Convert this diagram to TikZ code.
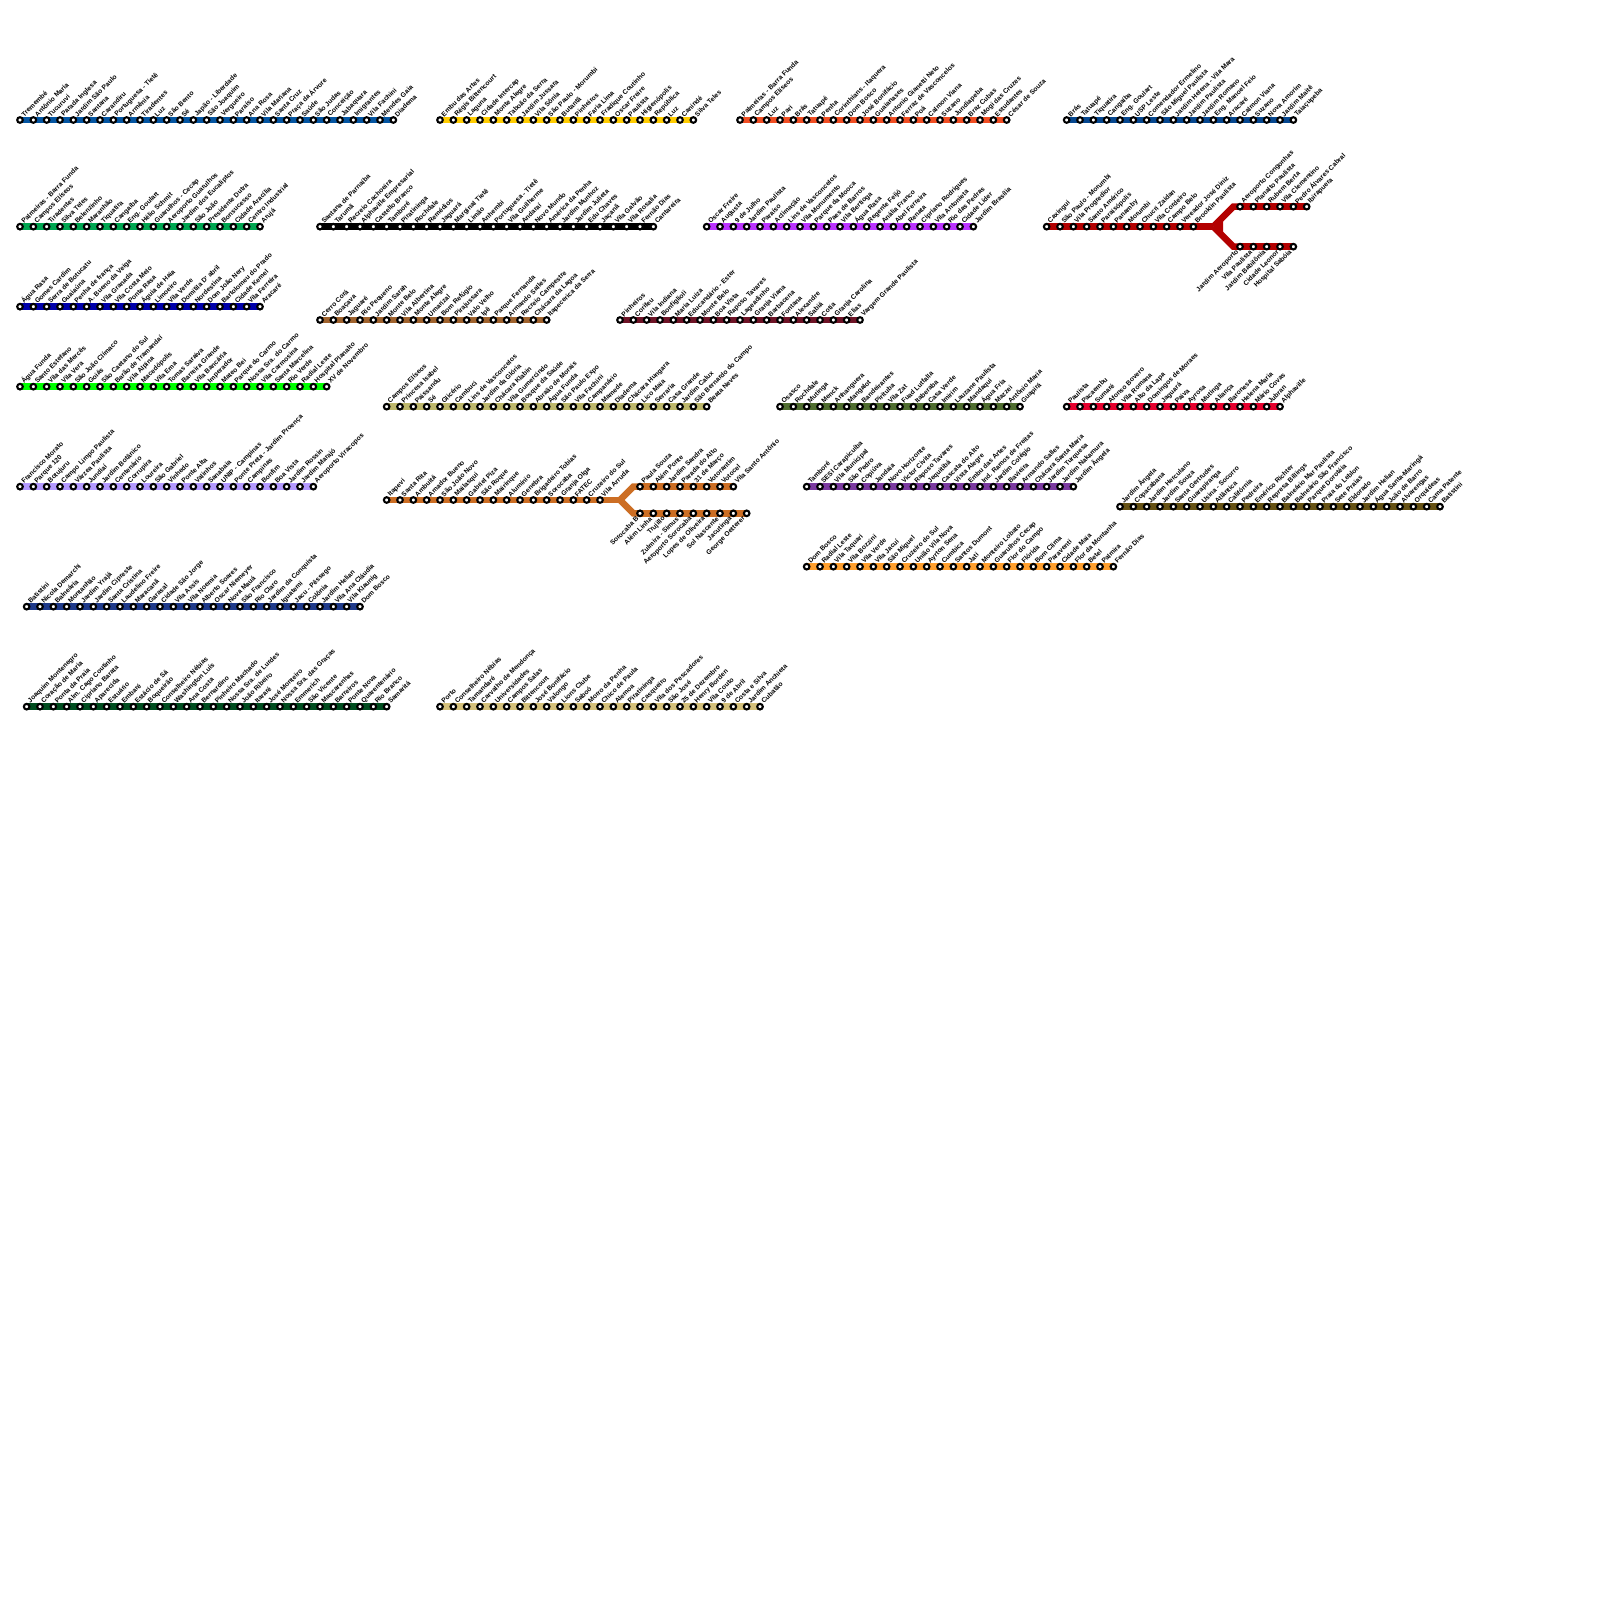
\documentclass[tikz,border=0pt]{standalone}
\usepackage{fontspec}
\setmainfont{Liberation Sans}
\usepackage{xcolor}
\definecolor{LineAzul}{HTML}{0455A1}
\definecolor{LineVerde}{HTML}{00A651}
\definecolor{LineAnil}{HTML}{0000AA}
\definecolor{LineLima}{HTML}{00FF00}
\definecolor{LineLilas}{HTML}{B399FF}
\definecolor{LineMarinho}{HTML}{1F3A8A}
\definecolor{LineMata}{HTML}{004D1F}
\definecolor{LineOuro}{HTML}{FFCC00}
\definecolor{LineCoral}{HTML}{F04E23}
\definecolor{LineNavy}{HTML}{06478F}
\definecolor{LinePreta}{HTML}{000000}
\definecolor{LineViola}{HTML}{BB33FF}
\definecolor{LineRubi}{HTML}{B30000}
\definecolor{LineTerra}{HTML}{A0632E}
\definecolor{LineVinho}{HTML}{6E1427}
\definecolor{LineCaqui}{HTML}{BDB76B}
\definecolor{LineCobre}{HTML}{CC6E24}
\definecolor{LineMusgo}{HTML}{4F6D2F}
\definecolor{LineRosa}{HTML}{E6002D}
\definecolor{LineRoxo}{HTML}{7B3AA0}
\definecolor{LineOliva}{HTML}{665214}
\definecolor{LineLaranja}{HTML}{FF9F2E}
\definecolor{LineAreia}{HTML}{D4C07A}
\usepackage{tikz}
\usetikzlibrary{backgrounds}
\newcommand{\stnstep}{13.3333}
% id, colour, first x, y, names
\newcommand{\metroline}[5]{%
    \foreach \sname [count=\i] in {#5} {
        \node[stn] (#1-\i) at ({#3+(\i-1)*\stnstep}, #4) {};
        \node[lblup] (#1-\i-lbl) at ([shift={(2.4,-4.4)}]#1-\i.center) {\sname};
        \xdef\lastidx{\i}
    }
    \begin{scope}[on background layer]
        \draw[band, #2] (#1-1.center) -- (#1-\lastidx.center);
    \end{scope}
}
% same thing, labels hanging below
\newcommand{\metrolinedown}[5]{%
    \foreach \sname [count=\i] in {#5} {
        \node[stn] (#1-\i) at ({#3+(\i-1)*\stnstep}, #4) {};
        \node[lbldown] (#1-\i-lbl) at ([shift={(-2.4,4.4)}]#1-\i.center) {\sname};
        \xdef\lastidx{\i}
    }
    \begin{scope}[on background layer]
        \draw[band, #2] (#1-1.center) -- (#1-\lastidx.center);
    \end{scope}
}

\begin{document}
\begin{tikzpicture}[
        x=1pt, y=-1pt,
        font=\fontsize{6.7}{8}\selectfont\bfseries,
        % Styles
        stn/.style={circle, draw=black, line width=2.1pt, fill=white, inner sep=0pt, minimum size=5.6pt},
        lblup/.style={anchor=west, rotate=45, inner sep=0pt, text=black},
        lbldown/.style={anchor=east, rotate=45, inner sep=0pt, text=black},
        band/.style={line width=6.6pt}
    ]
    \useasboundingbox (0,0) rectangle (1600,1600);

    % 1. TOP ROW
    \metroline{azul}{LineAzul}{20}{120}{Tremembé, Antônio Maria, Tucuruvi, Parada Inglesa, Jardim São Paulo, Santana, Carandiru, Portuguesa - Tietê, Armênia, Tiradentes, Luz, São Bento, Sé, Japão - Liberdade, São Joaquim, Vergueiro, Paraíso, Ana Rosa, Vila Mariana, Santa Cruz, Praça da Árvore, Saúde, São Judas, Conceição, Jabaquara, Imigrantes, Vila Fachini, Mendes Gaia, Diadema}
    \metroline{ouro}{LineOuro}{440}{120}{Embu das Artes, Régis Bittencourt, Laguna, Cidade Intercap, Monte Alegre, Taboão da Serra, Jardim Jussara, Vila Sônia, São Paulo - Morumbi, Butantã, Pinheiros, Faria Lima, Fradique Coutinho, Oscar Freire, Paulista, Higienópolis, República, Luz, Canindé, Silva Teles}
    \metroline{coral}{LineCoral}{740}{120}{Palmeiras - Barra Funda, Campos Elíseos, Luz, Pari, Brás, Tatuapé, Penha, Corinthians - Itaquera, Dom Bosco, José Bonifácio, Guaianases, Antonio Gianetti Neto, Ferraz de Vasconcelos, Poá, Calmon Viana, Suzano, Jundiapeba, Braz Cubas, Mogi das Cruzes, Estudantes, César de Souza}
    \metroline{navy}{LineNavy}{1066.67}{120}{Brás, Tatuapé, Tiquatira, Cangaíba, Eng. Goulart, USP Leste, Comendador Ermelino, São Miguel Paulista, Jardim Helena - Vila Mara, Jardim Paulista, Jardim Romano, Eng. Manoel Feio, Aracaré, Calmon Viana, Suzano, Nova Amorim, Jardim Maitê, Taiaçupeba}

    % 2. SECOND ROW
    \metroline{verde}{LineVerde}{20}{226.67}{Palmeiras - Barra Funda, Campos Elíseos, Tiradentes, Silva Teles, Belenzinho, Maranhão, Tiquatira, Cangaíba, Eng. Goulart, Hélio Schmit, Guarulhos - Cecap, Aeroporto Guarulhos, Jardim dos Eucaliptos, São João, Presidente Dutra, Bonsucesso, Cidade Aracília, Centro Industrial, Arujá}
    \metroline{preta}{LinePreta}{320}{226.67}{Santana de Parnaíba, Tarumã, Recreio Cachoeira, Alphaville Empresarial, Castello Branco, Tamboré, Piratininga, Rochdale, Remédios, Jaguará, Marginal Tietê, Limão, Anhembi, Portuguesa - Tietê, Vila Guilherme, Andaraí, Novo Mundo, América da Penha, Jardim Munhoz, Jardim Julieta, Edu Chaves, Jaçanã, Vila Galvão, Vila Rosalia, Fernão Dias, Cantareira}
    \metroline{viola}{LineViola}{706.67}{226.67}{Oscar Freire, Augusta, 9 de Julho, Jardim Paulista, Paraíso, Aclimação, Lins de Vasconcelos, Vila Monumento, Parque da Mooca, Paes de Barros, Vila Bertioga, Água Rasa, Regente Feijó, Anália Franco, Abel Ferreira, Renata, Cipriano Rodrigues, Vila Antonieta, Rio das Pedras, Cidade Líder, Jardim Brasília}

    % 3. RED LINE WITH FORK
    \metroline{rubi}{LineRubi}{1046.67}{226.67}{Caxingui, São Paulo - Morumbi, Vila Progredior, Santo Américo, Paraisópolis, Panamby, Morumbi, Chucri Zaidan, Vila Cordeiro, Campo Belo, Vereador José Diniz, Brooklin Paulista}
    \metroline{rubiup}{LineRubi}{1240}{206.67}{Aeroporto Congonhas, Planalto Paulista, Rubem Berta, Vila Clementino, Pedro Álvares Cabral, Ibirapuera}
    \metrolinedown{rubidown}{LineRubi}{1240}{246.67}{Jardim Aeroporto, Vila Paulista, Jardim Babilônia, Cidade Leonor, Hospital Sabóia}
    \coordinate (rubifork) at (1213.33, 226.67);
    \coordinate (rubibendup) at (1233.33, 206.67);
    \coordinate (rubibenddown) at (1233.33, 246.67);
    \begin{scope}[on background layer]
        \draw[band, LineRubi] (rubi-12.center) -- (rubifork);
        \draw[band, LineRubi] (rubifork) -- (rubibendup) -- (rubiup-1.center);
        \draw[band, LineRubi] (rubifork) -- (rubibenddown) -- (rubidown-1.center);
        \fill[LineRubi] (rubifork) -- (1223, 220.5) -- (1223, 232.8) -- cycle;
    \end{scope}

    % 4. THIRD ROW
    \metroline{anil}{LineAnil}{20}{306.67}{Água Rasa, Gomes Cardim, Serra de Botucatu, Guaiaúna, Penha de frança, A. Bueno da Veiga, Vila Granada, Vila Costa Melo, Ponte Rasa, Águia de Haia, Limoeiro, Vila Verde, Domitila D' abril, Nordestina, Dom João Nery, Bartolomeu do Prado, Cidade Kemel, Vila Ferreira, Aracaré}
    \metroline{terra}{LineTerra}{320}{320}{Cerro Corá, Boaçava, Jaguaré, Rio Pequeno, Jardim Sarah, Monte Belo, Vila Albertina, Monte Alegre, Umarizal, Bom Refúgio, Pirajussara, Valo Velho, Ipê, Parque Fernanda, Armando Salles, Recreio Campestre, Chácara da Lagoa, Itapecerica da Serra}
    \metroline{vinho}{LineVinho}{620}{320}{Pinheiros, Corifeu, Vila Indiana, Bonfiglioli, Maria Luiza, Educandário - Ester, Monte Belo, Boa Vista, Raposo Tavares, Lageadinho, Granja Viana, Barbacena, Fontana, Alexandre, Sabiá, Cotia, Granja Carolina, Elias, Vargem Grande Paulista}

    % 5. FOURTH ROW
    \metroline{lima}{LineLima}{20}{386.67}{Água Funda, Santo Estefano, Vila das Mercês, Vila Vera, São João Clímaco, Goiás, São Caetano do Sul, Barão de Tramandaí, Vila Alpina, Macedópolis, Vila Ema, Tomas Saraiva, Barreira Grande, Vila Bancária, Imperador, Mateo Bei, Parque do Carmo, Nossa Sra. do Carmo, Vila Carmosina, Santa Marcelina, Rio Verde, Radial Leste, Hospital Planalto, XV de Novembro}
    \metroline{caqui}{LineCaqui}{386.67}{406.67}{Campos Elíseos, Princesa Isabel, Paissandu, Sé, Glicério, Cambuci, Lins de Vasconcelos, Jardim da Glória, Chácara Klabin, Vila Gumercindo, Bosque da Saúde, Abraão de Morais, Água Funda, São Paulo Expo, Vila Fachini, Campanário, Mamede, Diadema, Chácara Hungara, Lico Maia, Serraria, Casa Grande, Jardim Calux, São Bernardo do Campo, Beata Neves}
    \metroline{musgo}{LineMusgo}{780}{406.67}{Osasco, Rochdale, Mutinga, Menck, Anhanguera, Mangalot, Bandeirantes, Pirituba, Vila Zat, Fuad Lutfalla, Itaberaba, Casa Verde, Imirim, Lauzane Paulista, Mandaqui, Água Fria, Mazzei, Antônio Maria, Guapirá}
    \metroline{rosa}{LineRosa}{1066.67}{406.67}{Paulista, Pacaembu, Sumaré, Afonso Bovero, Vila Romana, Alto da Lapa, Domingos de Moraes, Jaguará, Paiva, Ayrosa, Mutinga, Aliança, Baronesa, Helena Maria, Mário Covas, Jubran, Alphaville}

    % 6. FIFTH ROW
    \metroline{lilas}{LineLilas}{20}{486.67}{Francisco Morato, Parque 120, Botujuru, Campo Limpo Paulista, Várzea Paulista, Jundiaí, Jardim Botânico, Centenário, Corrupira, Loureira, São Gabriel, Vinhedo, Ponte Alta, Valinhos, Sanabaia, UNIP - Campinas, Ponte Preta - Jardim Proença, Campinas, Bonfim, Boa Vista, Jardim Rossin, Jardim Marajó, Aeroporto Viracopos}
    \metroline{roxo}{LineRoxo}{806.67}{486.67}{Tamboré, SESI Carapicuíba, Vila Municipal, São Pedro, Copiúva, Jandaia, Novo Horizonte, Victor Civita, Raposo Tavares, Jequitibá, Cascata do Alto, Vista Alegre, Embu das Artes, Ind. Ramos de Freitas, Jardim Colégio, Bavieira, Armando Salles, Chácara Santa Maria, Jardim Turquesa, Jardim Nakamura, Jardim Ângela}
    \metroline{oliva}{LineOliva}{1120}{506.67}{Jardim Ângela, Copacabana, Jardim Herculano, Jardim Souza, Santa Gertrudes, Guarapiranga, Usina - Socorro, Atlântica, Califórnia, Pedreira, Emérico Richter, Represa Billings, Balneário Mar Paulista, Balneário São Francisco, Parque Dorotéia, Praia do Leblon, Sete Praias, Eldorado, Jardim Helian, Água Santa-Maringá, João de Barro, Alvarengas, Orquídeas, Cama Patente, Batistini}

    % 7. ORANGE LINE WITH FORK
    \metroline{cobre}{LineCobre}{386.67}{500}{Itapevi, Santa Rita, Ambuitá, Amador Bueno, São João Novo, Mailasqui, Gabriel Piza, São Roque, Mairinque, Alumínio, Genebra, Brigadeiro Tobias, Sorocaba, Granja Olga, FATEC, Cruzeiro do Sul, Vila Arruda}
    \metroline{cobreup}{LineCobre}{640}{486.67}{Paula Souza, Além Ponte, Jardim Sandra, Parada do Alto, 31 de Março, Votorantim, Votocel, Vila Santo Antônio}
    \metrolinedown{cobredown}{LineCobre}{640}{513.33}{Sorocaba B, Além Linha, Trujillo, Zulmira - Simus, Aeroporto Sorocaba, Lopes de Oliveira, Sol Nascente, Jacutinga, George Oetterer}
    \coordinate (cobrefork) at (620, 500);
    \coordinate (cobrebendup) at (633.33, 486.67);
    \coordinate (cobrebenddown) at (633.33, 513.33);
    \begin{scope}[on background layer]
        \draw[band, LineCobre] (cobre-17.center) -- (cobrefork);
        \draw[band, LineCobre] (cobrefork) -- (cobrebendup) -- (cobreup-1.center);
        \draw[band, LineCobre] (cobrefork) -- (cobrebenddown) -- (cobredown-1.center);
    \end{scope}

    % 8. LOWER ROWS
    \metroline{laranja}{LineLaranja}{806.67}{566.67}{Dom Bosco, Radial Leste, Vila Taquari, Vila Bozzini, Vila Verde, Vila Jacuí, São Miguel, Cruzeiro do Sul, União Vila Nova, Ayrton Sena, Cumbica, Santos Dumont, Jati, Monteiro Lobato, Guarulhos Cecap, Flor do Campo, Flórida, Bom Clima, Paraventi, Cidade Maia, Flor da Montanha, Betel, Palmira, Fernão Dias}
    \metroline{marinho}{LineMarinho}{26.67}{606.67}{Batistini, Nicola Demarchi, Balneária, Montanhão, Jardim Yrajá, Jardim Cipreste, Santa Cristina, Laudelino Freire, Maracanã, Garasal, Cidade São Jorge, Vila Assis, Vila Noemia, Alberto Soares, Oscar Niemeyer, Nova Mauá, São Francisco, Rio Claro, Jardim da Conquista, Iguatemi, Jacu - Pêssego, Colônia, Jardim Helian, Vila Ana Cláudia, Vila Klaunig, Dom Bosco}
    \metroline{mata}{LineMata}{26.67}{706.67}{Joaquim Montenegro, Coração de Maria, Ponta da Praia, Alm. Cago Coutinho, Cipriano Barata, Aparecida, Estuário, Embaré, Estácio de Sá, Boqueirão, Conselheiro Nébias, Washington Luís, Ana Costa, Bernardino, Pinheiro Machado, Nossa Sra. de Lurdes, João Ribeiro, Itararé, José Monteiro, Nossa Sra. das Graças, Emmerich, São Vicente, Mascarenhas, Barreiros, Ponte Nova, Quarentenário, Rio Branco, Samaritá}
    \metroline{areia}{LineAreia}{440}{706.67}{Porto, Conselheiro Nébias, Tamandaré, Carvalho de Mendonça, Universidades, Campos Salas, Bittencourt, José Bonifácio, Valongo, Lions Clube, Saboó, Morro da Penha, Chico de Paula, Alemoa, Piratininga, Casqueiro, Vila dos Pescadores, São José, 25 de Dezembro, Henry Borden, Vila Couto, 9 de Abril, Costa e Silva, Jardim Anchieta, Cubatão}
\end{tikzpicture}
\end{document}
